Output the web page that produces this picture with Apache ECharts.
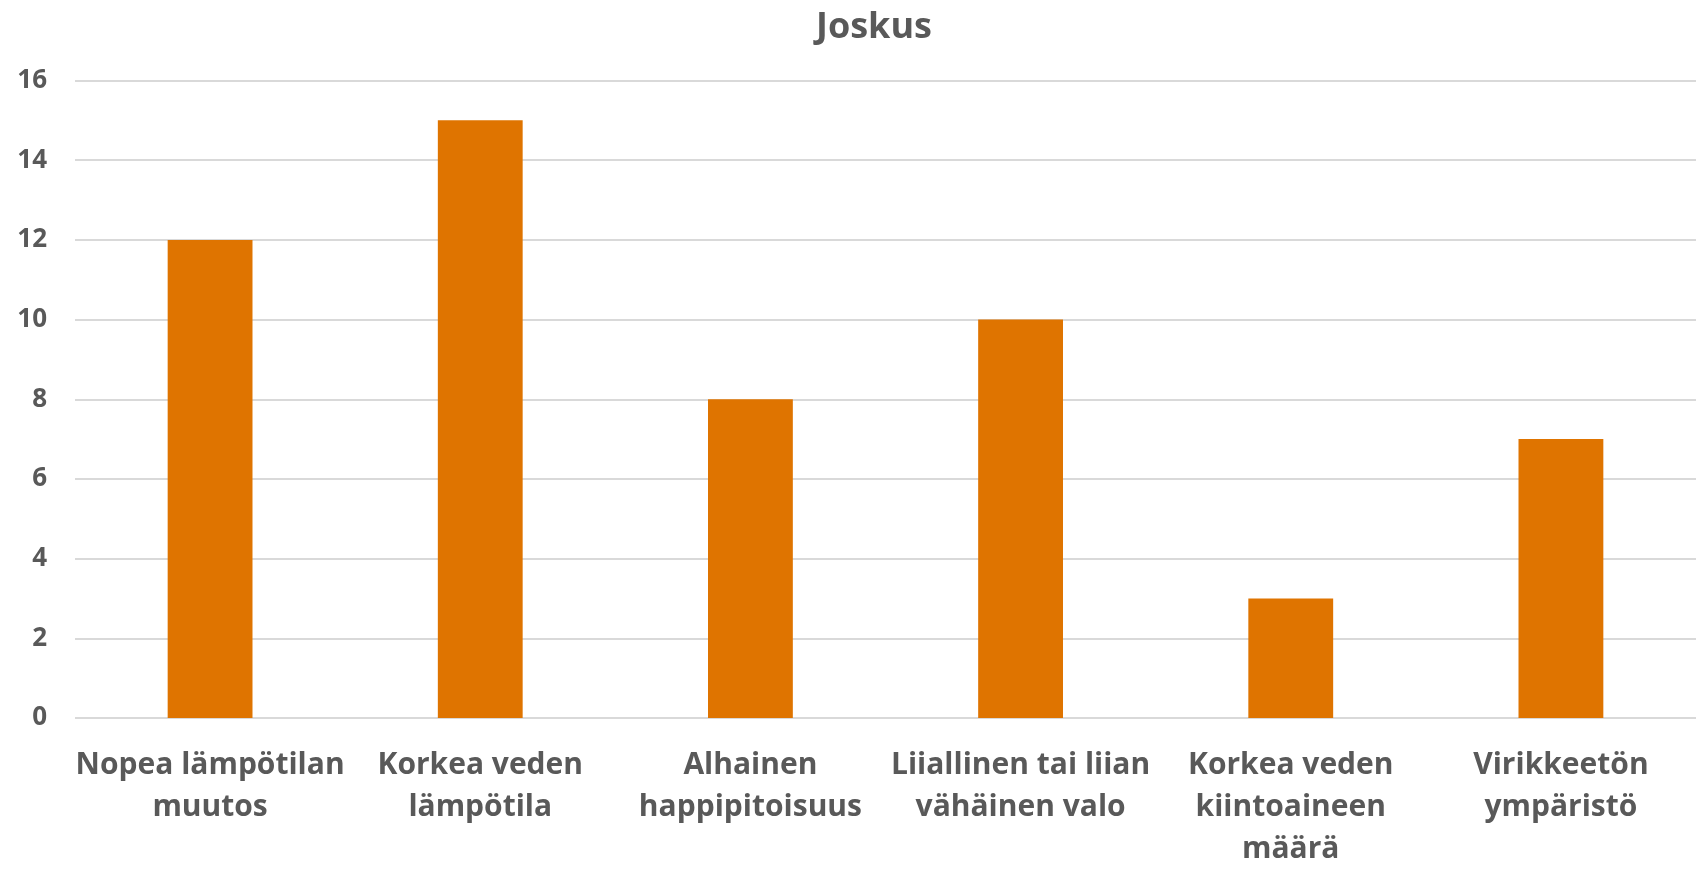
<!DOCTYPE html>
<html>
<head>
<meta charset="utf-8">
<script src="https://cdn.jsdelivr.net/npm/echarts@6/dist/echarts.min.js"></script>
<style>
  html, body { margin: 0; padding: 0; background: #fff; }
  #chart { width: 1696px; height: 870px; }
</style>
</head>
<body>
<div id="chart"></div>
<script>
// data
const titleText = 'Joskus'
const categories = [
  'Nopea lämpötilan\nmuutos',
  'Korkea veden\nlämpötila',
  'Alhainen\nhappipitoisuus',
  'Liiallinen tai liian\nvähäinen valo',
  'Korkea veden\nkiintoaineen\nmäärä',
  'Virikkeetön\nympäristö'
]
const values = [12, 15, 8, 10, 3, 7]
const yMin = 0
const yMax = 16
const yStep = 2

const ink = '#595959'
const font = '"Open Sans", "Noto Sans", sans-serif'

const chart = echarts.init(document.getElementById('chart'), null, { renderer: 'canvas' })

// the plot runs past the right edge of the picture (last category is clipped)
chart.setOption({
  animation: false,
  backgroundColor: '#ffffff',
  title: {
    text: titleText,
    left: 869,
    top: 5,
    textAlign: 'center',
    textStyle: { color: ink, fontFamily: font, fontWeight: 'bold', fontSize: 36 }
  },
  grid: { left: 75, top: 80.5, width: 1635.5, bottom: 148, containLabel: false },
  xAxis: {
    type: 'category',
    data: categories,
    axisLine: { show: false },
    axisTick: { show: false },
    axisLabel: {
      interval: 0,
      margin: 26,
      color: ink,
      fontFamily: font,
      fontWeight: 'bold',
      fontSize: 30,
      lineHeight: 42,
      align: 'center',
      verticalAlign: 'top'
    }
  },
  yAxis: {
    type: 'value',
    min: yMin,
    max: yMax,
    interval: yStep,
    axisLine: { show: false },
    axisTick: { show: false },
    splitLine: { lineStyle: { color: '#d9d9d9', width: 2 } },
    axisLabel: {
      color: ink,
      fontFamily: font,
      fontWeight: 'bold',
      fontSize: 26,
      margin: 28
    }
  },
  series: [{
    type: 'bar',
    data: values,
    barWidth: '31.4%',
    itemStyle: { color: '#df7400' }
  }]
})
</script>
</body>
</html>
